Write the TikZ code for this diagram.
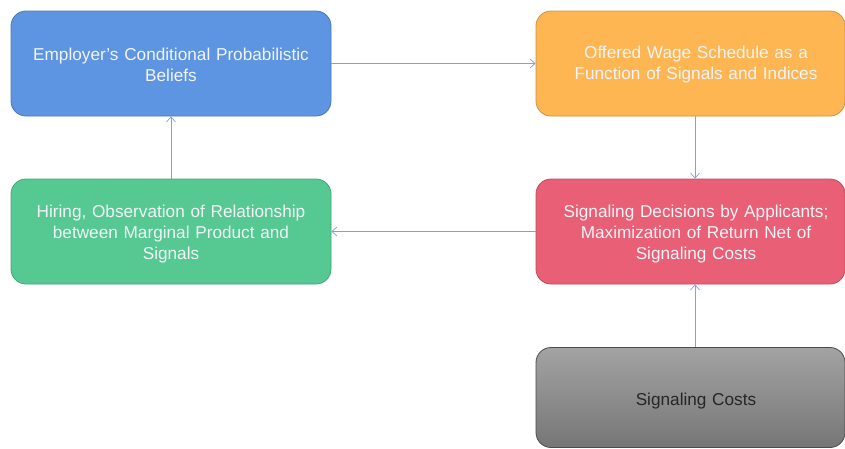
\documentclass[tikz,border=0pt]{standalone}
\usepackage{fontspec}
\setmainfont{Liberation Sans}
\usetikzlibrary{arrows.meta}
\definecolor{bluef}{HTML}{5D95E2}
\definecolor{blued}{HTML}{4A78B8}
\definecolor{orangef}{HTML}{FEB653}
\definecolor{oranged}{HTML}{D09040}
\definecolor{greenf}{HTML}{55C991}
\definecolor{greend}{HTML}{44A575}
\definecolor{redf}{HTML}{E95F76}
\definecolor{redd}{HTML}{C04C5E}
\definecolor{grayt}{HTML}{A3A3A3}
\definecolor{grayb}{HTML}{767676}
\definecolor{arrowc}{HTML}{7FA2DC}
\definecolor{txtl}{HTML}{F2F4F8}
\tikzset{
  boxst/.style={rounded corners=15pt, line width=0.8pt, minimum width=320pt, minimum height=105pt, inner sep=0pt},
  txtst/.style={align=center, inner sep=0pt, text width=310pt, font=\fontsize{17.2}{21}\selectfont, text=txtl},
  conn/.style={draw=arrowc, line width=0.7pt, -{Straight Barb[length=5pt,width=9pt,line width=0.7pt]}}
}
\begin{document}
\begin{tikzpicture}[x=1pt,y=-1pt]
\useasboundingbox (0,0) rectangle (845,448);
\fill[white] (0,0) rectangle (845,448);
\node[boxst, fill=bluef, draw=blued] (emp) at (171,63.5) {};
\node[txtst] (empt) at (171,64.5) {Employer’s Conditional Probabilistic\\Beliefs};
\node[boxst, fill=orangef, draw=oranged, minimum width=309pt] (wage) at (690.5,63.5) {};
\node[txtst] (waget) at (696,64.5) {Offered Wage Schedule as a\\Function of Signals and Indices};
\node[boxst, fill=greenf, draw=greend] (hire) at (171,231.5) {};
\node[txtst] (hiret) at (171,234) {Hiring, Observation of Relationship\\between Marginal Product and\\Signals};
\node[boxst, fill=redf, draw=redd, minimum width=309pt] (dec) at (690.5,231.5) {};
\node[txtst] (dect) at (696,234) {Signaling Decisions by Applicants;\\Maximization of Return Net of\\Signaling Costs};
\node[boxst, top color=grayt, bottom color=grayb, draw=gray!60!black, minimum width=309pt, minimum height=100pt] (cost) at (690.5,397.5) {};
\node[txtst, text=black!85] (costt) at (696,401) {Signaling Costs};
\draw[conn] (emp.east) -- (wage.west);
\draw[conn] (wage.south -| 695,0) -- (dec.north -| 695,0);
\draw[conn] (dec.west) -- (hire.east);
\draw[conn] (hire.north) -- (emp.south);
\draw[conn] (cost.north -| 695,0) -- (dec.south -| 695,0);
\end{tikzpicture}
\end{document}
